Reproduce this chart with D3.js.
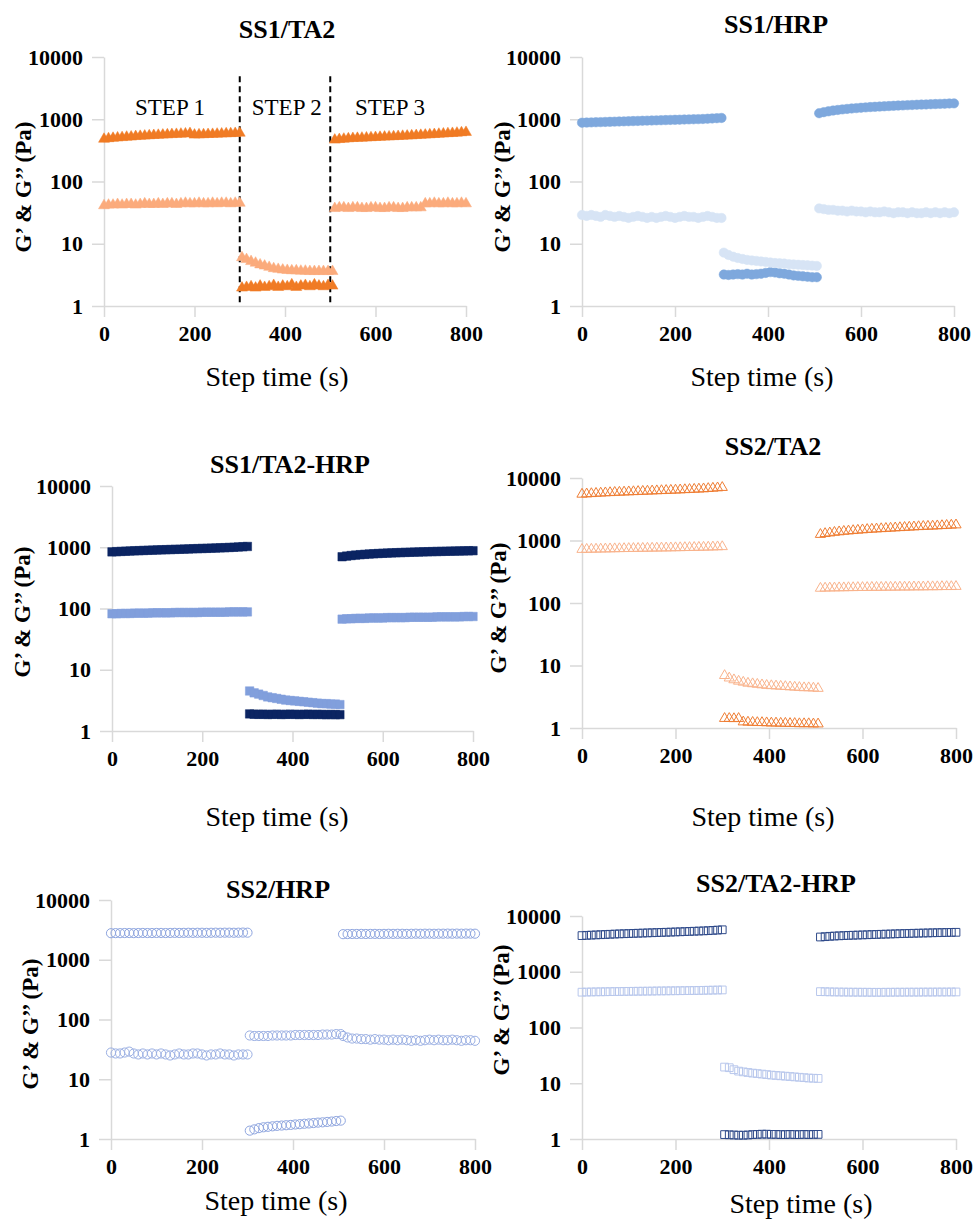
<!DOCTYPE html>
<html>
<head>
<meta charset="utf-8">
<script src="https://cdn.jsdelivr.net/npm/d3@7"></script>
<style>
  body { margin: 0; background: #fff; }
  text { font-family: "Liberation Serif", "Times New Roman", serif; }
</style>
</head>
<body>
<div id="viz_container"></div>
<script>
// sample times of each step (s)
const times1 = [0,10,20,30,40,50,60,70,80,90,100,110,120,130,140,150,160,170,180,190,200,210,220,230,240,250,260,270,280,290,300];
const times2 = [305,315,325,335,345,355,365,375,385,395,405,415,425,435,445,455,465,475,485,495,505];
const times3 = [510,520,530,540,550,560,570,580,590,600,610,620,630,640,650,660,670,680,690,700,710,720,730,740,750,760,770,780,790,800];
const stepTimes = [times1, times2, times3];

const xTicks = [0, 200, 400, 600, 800];
const yTicks = [1, 10, 100, 1000, 10000];

// G' and G'' per step [step1, step2, step3]
const ss1ta2_G1 = [
  [480,490,497,505,510,518,522,530,535,540,546,552,556,560,566,570,575,580,585,592,560,565,568,572,575,580,583,588,590,595,600],
  [1.95,2.0,2.05,1.95,2.1,2.0,2.05,2.15,2.0,2.1,2.05,2.2,2.0,2.1,2.15,2.05,2.2,2.1,2.05,2.15,2.1],
  [465,475,482,488,493,497,500,504,508,512,516,520,524,528,532,536,540,545,550,555,560,566,572,578,584,590,596,602,610,618]
];
const ss1ta2_G2 = [
  [41,42,42,43,42,43,43,42,43,44,43,43,44,43,44,44,43,44,45,44,44,45,44,44,45,44,45,45,44,45,45],
  [6.0,5.6,5.2,4.9,4.6,4.4,4.2,4.0,3.9,3.8,3.75,3.7,3.7,3.65,3.65,3.6,3.6,3.6,3.6,3.6,3.6],
  [37,38,38,37,38,38,37,37,38,38,37,37,38,38,37,37,38,38,38,38,44,44,45,44,44,45,44,44,45,44]
];

const ss1hrp_G1 = [
  [880,885,890,896,900,905,910,915,920,925,930,935,940,945,950,955,960,965,970,975,980,985,990,995,1000,1005,1010,1020,1030,1040,1050],
  [3.2,3.15,3.2,3.25,3.2,3.3,3.2,3.25,3.3,3.4,3.5,3.45,3.35,3.3,3.2,3.1,3.05,3.0,2.95,2.9,2.9],
  [1250,1300,1340,1380,1410,1440,1465,1490,1510,1530,1550,1570,1585,1600,1615,1630,1645,1660,1670,1685,1695,1710,1720,1730,1745,1755,1765,1775,1790,1800]
];
const ss1hrp_G2 = [
  [29,28,29,28,27,29,28,27,28,27,26,27,28,27,26,27,26,27,28,27,26,27,28,27,27,26,27,28,27,26,26],
  [7.2,6.6,6.2,5.9,5.7,5.5,5.4,5.3,5.2,5.1,5.0,4.9,4.85,4.8,4.7,4.65,4.6,4.55,4.5,4.45,4.4],
  [37,36,35,35,34,34,33,34,33,33,32,33,32,32,33,32,31,32,32,31,32,31,31,32,31,32,31,32,31,32]
];

const ss1ta2hrp_G1 = [
  [840,848,855,862,868,875,880,886,892,898,903,908,913,918,923,928,933,938,944,950,955,960,966,972,978,985,992,1000,1010,1020,1030],
  [1.9,1.88,1.87,1.88,1.86,1.87,1.88,1.86,1.87,1.88,1.87,1.86,1.87,1.88,1.86,1.87,1.86,1.85,1.86,1.85,1.85],
  [700,718,732,745,756,766,775,783,790,797,803,809,814,819,824,829,833,837,841,845,849,853,856,860,863,866,869,872,875,878]
];
const ss1ta2hrp_G2 = [
  [82,82,83,83,83,84,84,84,84,85,85,85,85,85,86,86,86,86,86,86,87,87,87,87,87,87,88,88,88,88,88],
  [4.5,4.2,4.0,3.8,3.6,3.5,3.4,3.3,3.2,3.15,3.1,3.05,3.0,2.95,2.9,2.85,2.8,2.8,2.75,2.75,2.7],
  [67,68,68,69,69,69,70,70,70,70,71,71,71,71,71,72,72,72,72,72,72,73,73,73,73,73,73,74,74,74]
];

const ss2ta2_G1 = [
  [5500,5560,5620,5680,5730,5780,5830,5880,5920,5960,6000,6040,6080,6120,6160,6200,6240,6280,6320,6360,6400,6450,6500,6550,6600,6650,6700,6780,6860,6950,7050],
  [1.42,1.42,1.41,1.42,1.25,1.24,1.23,1.22,1.22,1.21,1.2,1.2,1.19,1.19,1.18,1.18,1.17,1.17,1.17,1.16,1.16],
  [1250,1290,1320,1350,1375,1400,1420,1440,1460,1480,1500,1515,1530,1545,1560,1575,1590,1605,1620,1635,1650,1665,1680,1690,1700,1715,1730,1745,1760,1775]
];
const ss2ta2_G2 = [
  [720,722,725,727,730,732,735,737,740,742,744,746,748,750,752,754,756,758,760,762,765,767,770,772,775,778,781,784,788,792,796],
  [6.9,6.3,5.9,5.6,5.4,5.2,5.1,5.0,4.9,4.8,4.75,4.7,4.65,4.6,4.55,4.5,4.45,4.4,4.4,4.35,4.3],
  [172,173,174,174,175,175,176,176,177,177,177,178,178,178,179,179,179,180,180,180,181,181,181,182,182,182,183,183,183,184]
];

const ss2hrp_G1 = [
  [2780,2790,2790,2800,2800,2790,2800,2810,2800,2800,2810,2810,2800,2810,2820,2810,2820,2830,2820,2830,2830,2820,2830,2840,2830,2840,2840,2830,2840,2850,2840],
  [1.38,1.45,1.52,1.57,1.6,1.63,1.66,1.68,1.7,1.72,1.75,1.77,1.8,1.82,1.85,1.88,1.9,1.93,1.96,2.0,2.03],
  [2680,2690,2700,2700,2710,2700,2710,2710,2700,2710,2720,2710,2720,2720,2710,2720,2730,2720,2730,2730,2720,2730,2730,2740,2730,2740,2730,2740,2740,2730]
];
const ss2hrp_G2 = [
  [28,27,27,28,29,27,26,27,26,27,26,27,26,25,26,27,26,26,27,27,26,25,26,26,27,26,26,25,26,26,26],
  [54,53,53,53,53,54,54,54,54,54,55,55,55,55,55,55,56,56,56,57,57],
  [53,50,48,48,47,47,46,47,46,46,45,46,45,46,45,44,45,44,45,46,45,46,45,45,46,45,44,45,45,44]
];

const ss2ta2hrp_G1 = [
  [4450,4500,4540,4580,4620,4660,4700,4740,4780,4810,4840,4880,4910,4940,4980,5010,5040,5080,5110,5140,5180,5210,5250,5290,5330,5370,5410,5460,5520,5590,5660],
  [1.2,1.19,1.18,1.17,1.17,1.18,1.2,1.21,1.22,1.22,1.21,1.21,1.2,1.2,1.21,1.2,1.2,1.21,1.2,1.21,1.21],
  [4200,4260,4320,4370,4410,4450,4490,4520,4550,4580,4610,4640,4670,4700,4730,4760,4790,4820,4850,4870,4900,4920,4950,4970,5000,5020,5040,5060,5080,5100]
];
const ss2ta2hrp_G2 = [
  [430,432,434,436,437,438,440,441,442,444,445,446,447,448,449,450,452,453,454,455,456,457,458,460,461,462,464,466,468,470,472],
  [19.5,19.0,17.5,16.5,16.0,15.6,15.2,14.9,14.6,14.3,14.0,13.8,13.6,13.4,13.2,13.0,12.8,12.6,12.4,12.3,12.2],
  [440,438,436,434,433,432,431,430,430,429,429,428,428,428,429,429,430,430,430,431,431,431,432,432,432,433,433,433,434,434]
];

// step annotations for the first panel
const stepLabels = ["STEP 1", "STEP 2", "STEP 3"];
const stepLabelX = [146, 404, 632];
const stepLabelY = 1170;
const stepBounds = [300, 500];
const stepBoundTop = 4900;

// panel layout (pixel boxes) and styles
const panels = [
  { title: "SS1/TA2", l: 104, r: 466, t: 57, b: 306, titleX: 287, titleY: 38, yTitleX: 23, yTitleY: 187, xTitleX: 277, xTitleY: 386,
    series: [ss1ta2_G1, ss1ta2_G2], colors: ["#F07B24", "#FBAB7C"], symbol: d3.symbolTriangle, size: 52, filled: true, steps: true },
  { title: "SS1/HRP", l: 582, r: 954, t: 57, b: 306, titleX: 776, titleY: 33, yTitleX: 502, yTitleY: 187, xTitleX: 762, xTitleY: 386,
    series: [ss1hrp_G1, ss1hrp_G2], colors: ["#7EA8DD", "#D7E4F5"], symbol: d3.symbolCircle, size: 70, filled: true },
  { title: "SS1/TA2-HRP", l: 112, r: 473, t: 486, b: 731, titleX: 290, titleY: 473, yTitleX: 22, yTitleY: 612, xTitleX: 277, xTitleY: 826,
    series: [ss1ta2hrp_G1, ss1ta2hrp_G2], colors: ["#0B2462", "#819FDC"], symbol: d3.symbolSquare, size: 72, filled: true },
  { title: "SS2/TA2", l: 582, r: 956, t: 478, b: 728, titleX: 773, titleY: 455, yTitleX: 498, yTitleY: 608, xTitleX: 763, xTitleY: 826,
    series: [ss2ta2_G1, ss2ta2_G2], colors: ["#EF7D33", "#F9B38C"], symbol: d3.symbolTriangle, size: 45, filled: false },
  { title: "SS2/HRP", l: 111, r: 475, t: 900, b: 1139, titleX: 278, titleY: 898, yTitleX: 30, yTitleY: 1024, xTitleX: 276, xTitleY: 1210,
    series: [ss2hrp_G1, ss2hrp_G2], colors: ["#8EA5DF", "#9AAFE3"], symbol: d3.symbolCircle, size: 66, filled: false },
  { title: "SS2/TA2-HRP", l: 582, r: 956, t: 916, b: 1139, titleX: 776, titleY: 892, yTitleX: 501, yTitleY: 1010, xTitleX: 801, xTitleY: 1213,
    series: [ss2ta2hrp_G1, ss2ta2hrp_G2], colors: ["#2F4A8A", "#B8C7EC"], symbol: d3.symbolSquare, size: 60, filled: false }
];

const svg = d3.select("#viz_container")
  .append("svg")
  .attr("width", 976)
  .attr("height", 1219);

panels.forEach(p => {
  const x = d3.scaleLinear().domain([0, 800]).range([p.l, p.r]);
  const y = d3.scaleLog().domain([1, 10000]).range([p.b, p.t]);

  const g = svg.append("g");

  // axes
  const yAxis = g.append("g")
    .attr("transform", `translate(${p.l},0)`)
    .call(d3.axisLeft(y).tickValues(yTicks).tickFormat(d3.format("d")).tickSize(12).tickSizeOuter(0).tickPadding(9));
  const xAxis = g.append("g")
    .attr("transform", `translate(0,${p.b})`)
    .call(d3.axisBottom(x).tickValues(xTicks).tickSize(11).tickSizeOuter(0).tickPadding(8));

  [yAxis, xAxis].forEach(a => {
    a.selectAll("path, line").attr("stroke", "#D9D9D9").attr("stroke-width", 1.5);
    a.selectAll("text")
      .attr("fill", "#000")
      .style("font-family", "'Liberation Serif', serif")
      .style("font-weight", "bold")
      .style("font-size", "22px");
  });

  // step boundaries and labels
  if (p.steps) {
    g.selectAll(".bound")
      .data(stepBounds)
      .join("line")
      .attr("x1", d => x(d)).attr("x2", d => x(d))
      .attr("y1", y(stepBoundTop)).attr("y2", y(1))
      .attr("stroke", "#000")
      .attr("stroke-width", 2)
      .attr("stroke-dasharray", "6,4");

    g.selectAll(".steplabel")
      .data(stepLabels)
      .join("text")
      .attr("x", (d, i) => x(stepLabelX[i]))
      .attr("y", y(stepLabelY))
      .attr("text-anchor", "middle")
      .style("font-size", "23px")
      .text(d => d);
  }

  // markers
  const sym = d3.symbol().type(p.symbol).size(p.size);
  p.series.forEach((s, si) => {
    s.forEach((vals, k) => {
      const pts = stepTimes[k].map((t, i) => ({ t: t, v: vals[i] }));
      g.append("g")
        .selectAll("path")
        .data(pts)
        .join("path")
        .attr("d", sym)
        .attr("transform", d => `translate(${x(d.t)},${y(d.v)})`)
        .attr("fill", p.filled ? p.colors[si] : "none")
        .attr("stroke", p.colors[si])
        .attr("stroke-width", p.filled ? 0.5 : 1);
    });
  });

  // titles
  g.append("text")
    .attr("x", p.titleX)
    .attr("y", p.titleY)
    .attr("text-anchor", "middle")
    .style("font-weight", "bold")
    .style("font-size", "26px")
    .text(p.title);

  g.append("text")
    .attr("transform", `translate(${p.yTitleX},${p.yTitleY}) rotate(-90)`)
    .attr("dy", "0.35em")
    .attr("text-anchor", "middle")
    .style("font-weight", "bold")
    .style("font-size", "23px")
    .text("G’ & G’’ (Pa)");

  g.append("text")
    .attr("x", p.xTitleX)
    .attr("y", p.xTitleY)
    .attr("text-anchor", "middle")
    .style("font-size", "28px")
    .text("Step time (s)");
});
</script>
</body>
</html>
